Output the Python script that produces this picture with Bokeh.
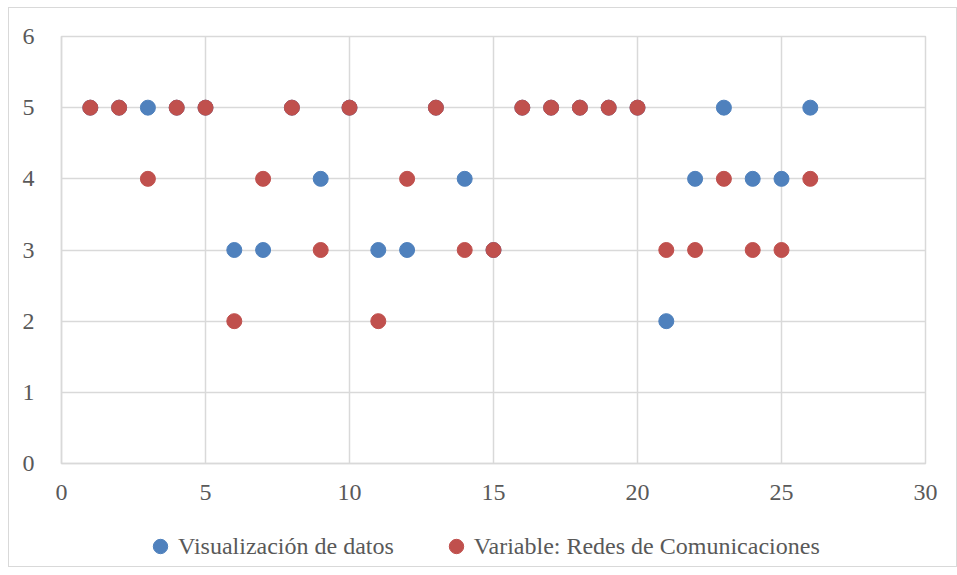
from bokeh.plotting import figure
from bokeh.layouts import column
from bokeh.models import ColumnDataSource, Legend, LegendItem, FixedTicker
from bokeh.embed import file_html
from bokeh.resources import INLINE

x_vals = list(range(1, 27))
visualizacion = [5, 5, 5, 5, 5, 3, 3, 5, 4, 5, 3, 3, 5, 4, 3, 5, 5, 5, 5, 5, 2, 4, 5, 4, 4, 5]
redes = [5, 5, 4, 5, 5, 2, 4, 5, 3, 5, 2, 4, 5, 3, 3, 5, 5, 5, 5, 5, 3, 3, 4, 3, 3, 4]
x_ticks = [0, 5, 10, 15, 20, 25, 30]
y_ticks = [0, 1, 2, 3, 4, 5, 6]
name_blue = "Visualización de datos"
name_red = "Variable: Redes de Comunicaciones"

FONT = "Liberation Serif"
GRID = "#d9d9d9"
TXT = "#595959"
BLUE = "#4F81BD"
RED = "#C0504D"

p = figure(output_backend="svg", toolbar_location=None,
           frame_width=864, frame_height=427,
           x_range=(0, 30), y_range=(0, 6))
p.min_border_left = 52
p.min_border_right = 31
p.min_border_top = 28
p.min_border_bottom = 45
p.background_fill_color = "white"
p.border_fill_color = "white"
p.outline_line_color = GRID
p.outline_line_width = 1.5

src = ColumnDataSource(dict(x=x_vals, b=visualizacion, r=redes))
p.scatter("x", "b", source=src, size=15, color=BLUE, line_color=BLUE)
p.scatter("x", "r", source=src, size=15, color=RED, line_color=RED)

for ax in (p.xaxis[0], p.yaxis[0]):
    ax.axis_line_color = GRID
    ax.axis_line_width = 1.5
    ax.major_tick_line_color = None
    ax.minor_tick_line_color = None
    ax.major_label_text_font = FONT
    ax.major_label_text_font_size = "24px"
    ax.major_label_text_color = TXT
p.xaxis[0].ticker = FixedTicker(ticks=x_ticks)
p.yaxis[0].ticker = FixedTicker(ticks=y_ticks)
p.xaxis[0].major_label_standoff = 15
p.yaxis[0].major_label_standoff = 21

p.xgrid.ticker = FixedTicker(ticks=x_ticks)
p.ygrid.ticker = FixedTicker(ticks=y_ticks)
p.xgrid.grid_line_color = GRID
p.ygrid.grid_line_color = GRID
p.xgrid.grid_line_width = 1.5
p.ygrid.grid_line_width = 1.5

# legend strip (its series glyphs lie outside its visible range; only the legend keys show)
pl = figure(output_backend="svg", toolbar_location=None, width=947, height=58,
            x_range=(-3, -2), y_range=(-3, -2), x_axis_type=None, y_axis_type=None)
pl.min_border = 0
pl.outline_line_color = None
pl.grid.visible = False
pl.background_fill_color = "white"
pl.border_fill_color = "white"
src_l = ColumnDataSource(dict(x=x_vals, b=visualizacion, r=redes))
lb = pl.scatter("x", "b", source=src_l, size=15, color=BLUE, line_color=BLUE)
lr = pl.scatter("x", "r", source=src_l, size=15, color=RED, line_color=RED)

legend = Legend(items=[LegendItem(label=name_blue, renderers=[lb], index=0),
                       LegendItem(label=name_red, renderers=[lr], index=0)],
                orientation="horizontal", location=(81, 2))
legend.label_text_font = FONT
legend.label_text_font_size = "24px"
legend.label_text_color = TXT
legend.border_line_color = None
legend.background_fill_alpha = 0
legend.glyph_width = 36
legend.glyph_height = 36
legend.label_standoff = 0
legend.spacing = 44
legend.margin = 0
legend.padding = 0
pl.add_layout(legend, "center")

layout = column(p, pl, spacing=0)
layout.styles = {"border": "1px solid #d9d9d9", "margin-left": "8px", "margin-top": "7px"}

open("out.html", "w").write(file_html(layout, INLINE))
